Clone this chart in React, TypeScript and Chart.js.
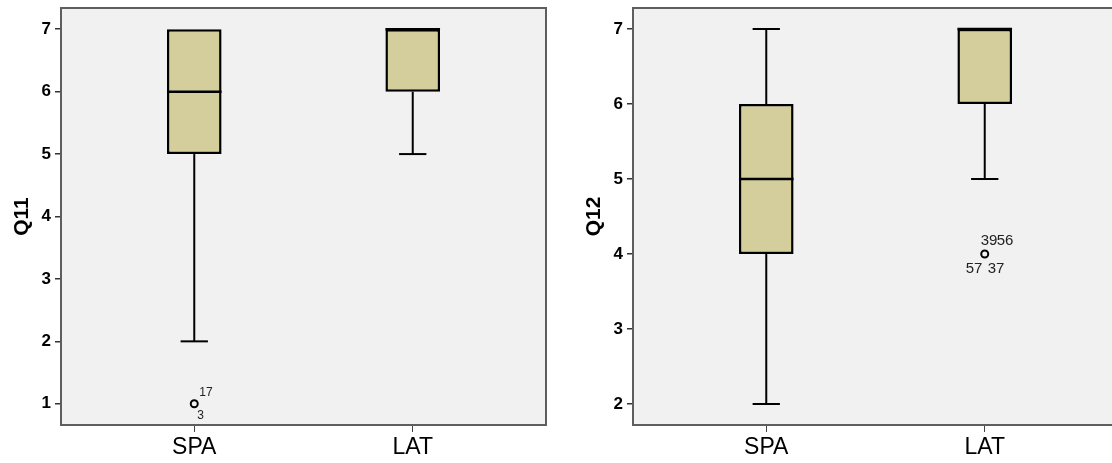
import React, { useEffect, useRef } from 'react';
import { Chart, registerables } from 'chart.js';

Chart.register(...registerables);
Chart.defaults.font.family = '"Liberation Sans", Arial, sans-serif';

const categories = ['SPA', 'LAT'];
const categoryPositions = [0, 1];

const q11Min = [2, 5];
const q11Q1 = [5, 6];
const q11Median = [6, 7];
const q11Q3 = [7, 7];
const q11Max = [7, 7];
const q11OutlierCategory = [0];
const q11OutlierValue = [1];
const q11OutlierLabels = [['17', '3']];
const q11Ticks = [1, 2, 3, 4, 5, 6, 7];

const q12Min = [2, 5];
const q12Q1 = [4, 6];
const q12Median = [5, 7];
const q12Q3 = [6, 7];
const q12Max = [7, 7];
const q12OutlierCategory = [1];
const q12OutlierValue = [4];
const q12OutlierLabels = [['39', '56', '57', '37']];
const q12Ticks = [2, 3, 4, 5, 6, 7];

type Offset = { dx: number; dy: number };

interface BoxProps {
  title: string;
  min: number[];
  q1: number[];
  median: number[];
  q3: number[];
  max: number[];
  yMin: number;
  yMax: number;
  ticks: number[];
  outCat: number[];
  outVal: number[];
  outLabels: string[][];
  labelOffsets: Offset[];
  labelFont: number;
}

const zeroPad = (s: any) => {
  s.paddingTop = 0;
  s.paddingBottom = 0;
  s.paddingLeft = 0;
  s.paddingRight = 0;
};

function BoxChart(props: BoxProps) {
  const ref = useRef<HTMLCanvasElement>(null);
  useEffect(() => {
    const { title, min, q1, median, q3, max, yMin, yMax, ticks, outCat, outVal, outLabels, labelOffsets, labelFont } = props;
    const extras = {
      id: 'boxExtras',
      beforeDatasetsDraw(chart: any) {
        const { ctx, chartArea } = chart;
        ctx.save();
        ctx.fillStyle = '#F1F1F1';
        ctx.fillRect(chartArea.left, chartArea.top, chartArea.right - chartArea.left, chartArea.bottom - chartArea.top);
        const xs = chart.scales.x;
        const ys = chart.scales.y;
        const meta = chart.getDatasetMeta(0);
        ctx.strokeStyle = '#000';
        ctx.lineWidth = 2;
        categoryPositions.forEach((c, i) => {
          const bar: any = meta.data[i];
          const w = bar.width;
          const x = xs.getPixelForValue(c);
          const line = (x1: number, y1: number, x2: number, y2: number) => {
            ctx.beginPath();
            ctx.moveTo(x1, y1);
            ctx.lineTo(x2, y2);
            ctx.stroke();
          };
          if (max[i] > q3[i]) {
            const yt = ys.getPixelForValue(max[i]);
            line(x, ys.getPixelForValue(q3[i]), x, yt);
            line(x - w / 4, yt, x + w / 4, yt);
          }
          if (min[i] < q1[i]) {
            const yb = ys.getPixelForValue(min[i]);
            line(x, ys.getPixelForValue(q1[i]), x, yb);
            line(x - w / 4, yb, x + w / 4, yb);
          }
        });
        ctx.restore();
      },
      afterDatasetsDraw(chart: any) {
        const { ctx } = chart;
        const xs = chart.scales.x;
        const ys = chart.scales.y;
        const meta = chart.getDatasetMeta(0);
        ctx.save();
        ctx.strokeStyle = '#000';
        ctx.lineWidth = 2.5;
        categoryPositions.forEach((c, i) => {
          const bar: any = meta.data[i];
          const w = bar.width;
          const x = xs.getPixelForValue(c);
          const y = ys.getPixelForValue(median[i]);
          ctx.beginPath();
          ctx.moveTo(x - w / 2, y);
          ctx.lineTo(x + w / 2, y);
          ctx.stroke();
        });
        ctx.fillStyle = '#222';
        ctx.font = `${labelFont}px "Liberation Sans", Arial, sans-serif`;
        ctx.textAlign = 'left';
        ctx.textBaseline = 'middle';
        outCat.forEach((c, i) => {
          const px = xs.getPixelForValue(categoryPositions[c]);
          const py = ys.getPixelForValue(outVal[i]);
          outLabels[i].forEach((lab, j) => {
            const o = labelOffsets[j];
            ctx.fillText(lab, px + o.dx, py + o.dy);
          });
        });
        ctx.restore();
      },
      afterDraw(chart: any) {
        const { ctx, chartArea } = chart;
        ctx.save();
        ctx.strokeStyle = '#5E5E5E';
        ctx.lineWidth = 2;
        ctx.strokeRect(chartArea.left, chartArea.top, chartArea.right - chartArea.left, chartArea.bottom - chartArea.top);
        ctx.restore();
      },
    };

    const chart = new Chart(ref.current as HTMLCanvasElement, {
      type: 'bar',
      data: {
        datasets: [
          {
            type: 'bar',
            data: categoryPositions.map((c, i) => ({ x: c, y: [q1[i], q3[i]] })) as any,
            backgroundColor: '#D3CE9B',
            borderColor: '#000',
            borderWidth: 2.5,
            borderSkipped: false,
            barPercentage: 0.25,
            categoryPercentage: 1,
            order: 2,
          },
          {
            type: 'scatter',
            data: outCat.map((c, i) => ({ x: categoryPositions[c], y: outVal[i] })) as any,
            pointRadius: 3.5,
            pointBorderWidth: 2,
            pointBackgroundColor: 'rgba(0,0,0,0)',
            pointBorderColor: '#000',
            order: 1,
          } as any,
        ],
      },
      options: {
        responsive: false,
        animation: false,
        devicePixelRatio: 1,
        layout: { autoPadding: false, padding: { top: 8, right: 14, left: 0, bottom: 0 } },
        plugins: { legend: { display: false }, tooltip: { enabled: false } },
        scales: {
          x: {
            type: 'linear',
            min: -0.61,
            max: 1.61,
            offset: false,
            afterBuildTicks: (s: any) => {
              s.ticks = categoryPositions.map((v) => ({ value: v }));
            },
            afterFit: (s: any) => {
              s.height = 38;
              zeroPad(s);
            },
            ticks: {
              callback: (_v: any, idx: number) => categories[idx],
              font: { size: 23 },
              color: '#000',
              padding: 2,
              autoSkip: false,
              maxRotation: 0,
            },
            grid: { drawOnChartArea: false, drawTicks: true, tickLength: 7, color: '#444', lineWidth: 1, offset: false },
            border: { display: false },
          },
          y: {
            type: 'linear',
            min: yMin,
            max: yMax,
            afterBuildTicks: (s: any) => {
              s.ticks = ticks.map((v) => ({ value: v }));
            },
            afterFit: (s: any) => {
              s.width = 61;
              zeroPad(s);
            },
            ticks: {
              callback: (v: any) => String(v),
              font: { size: 17, weight: 'bold' },
              color: '#000',
              padding: 4,
            },
            grid: { drawOnChartArea: false, drawTicks: true, tickLength: 6, color: '#333', lineWidth: 1.5 },
            border: { display: false },
            title: {
              display: true,
              text: title,
              font: { size: 21, weight: 'bold' },
              color: '#000',
              padding: { top: 10, bottom: 0 },
            },
          },
        },
      } as any,
      plugins: [extras],
    });
    return () => chart.destroy();
  }, []);
  return <canvas ref={ref} width={560} height={463} style={{ display: 'block', width: 560, height: 463 }} />;
}

export default function App() {
  return (
    <div style={{ position: 'fixed', left: 0, top: 0, width: 1112, height: 463, overflow: 'hidden', background: '#fff' }}>
      <div style={{ position: 'absolute', left: 0, top: 0 }}>
        <BoxChart
          title="Q11"
          min={q11Min}
          q1={q11Q1}
          median={q11Median}
          q3={q11Q3}
          max={q11Max}
          yMin={0.66}
          yMax={7.34}
          ticks={q11Ticks}
          outCat={q11OutlierCategory}
          outVal={q11OutlierValue}
          outLabels={q11OutlierLabels}
          labelOffsets={[{ dx: 5, dy: -11 }, { dx: 3, dy: 12 }]}
          labelFont={12}
        />
      </div>
      <div style={{ position: 'absolute', left: 572, top: 0 }}>
        <BoxChart
          title="Q12"
          min={q12Min}
          q1={q12Q1}
          median={q12Median}
          q3={q12Q3}
          max={q12Max}
          yMin={1.72}
          yMax={7.28}
          ticks={q12Ticks}
          outCat={q12OutlierCategory}
          outVal={q12OutlierValue}
          outLabels={q12OutlierLabels}
          labelOffsets={[{ dx: -4, dy: -13 }, { dx: 12, dy: -13 }, { dx: -19, dy: 15 }, { dx: 3, dy: 15 }]}
          labelFont={15}
        />
      </div>
    </div>
  );
}
